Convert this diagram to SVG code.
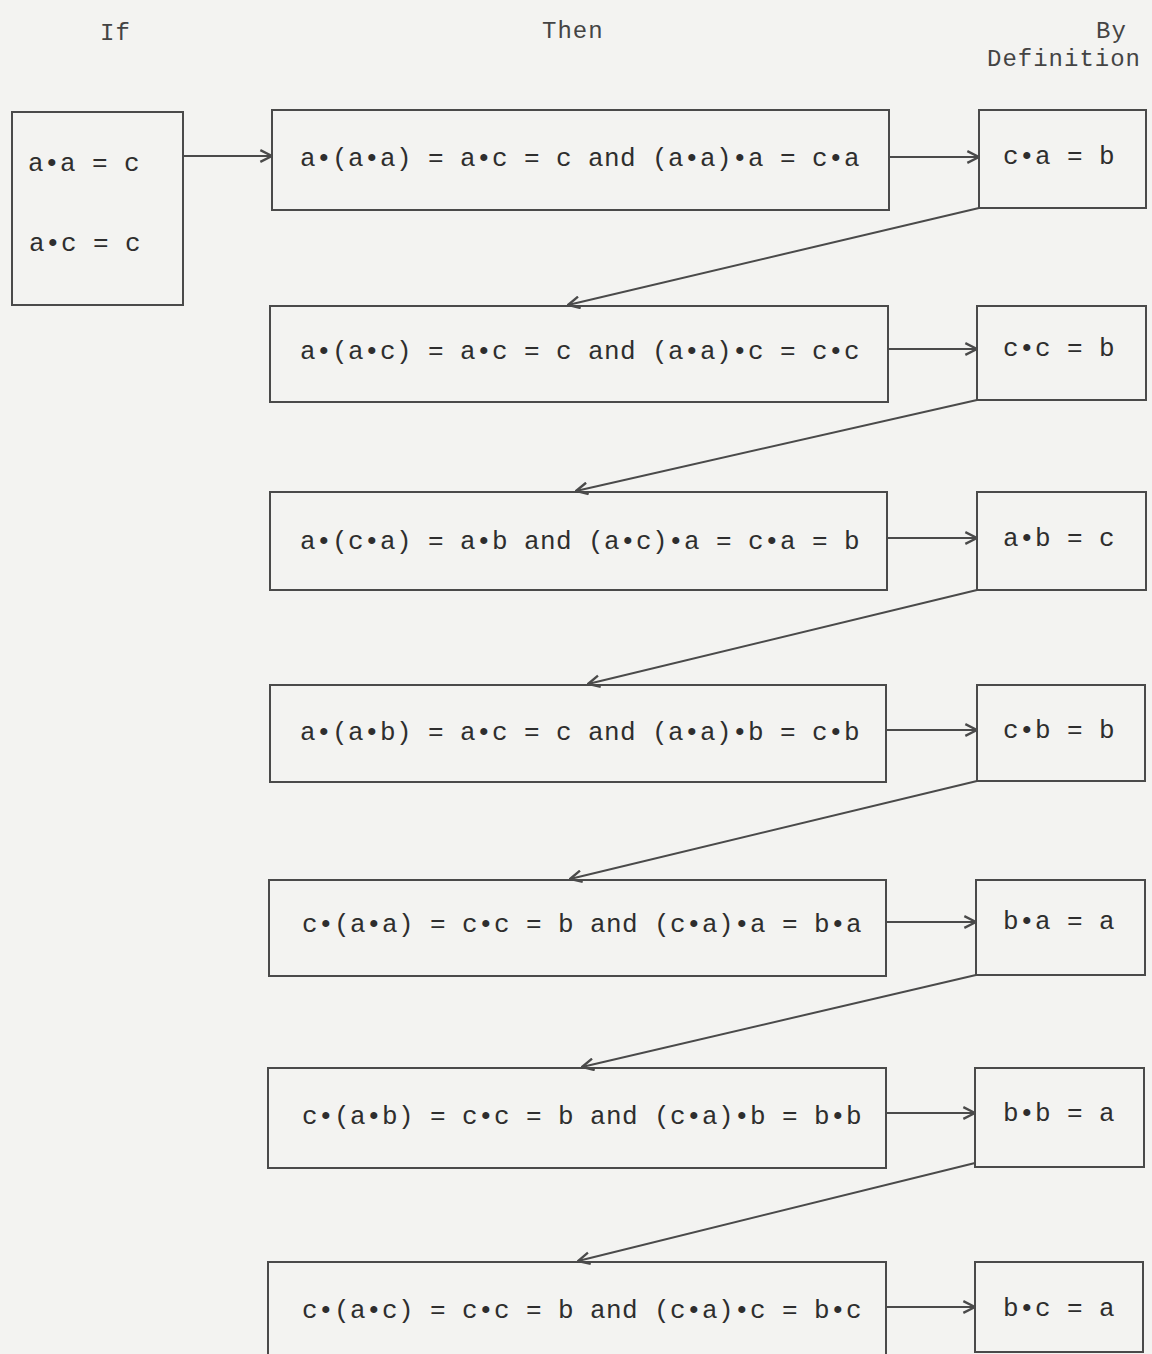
<svg xmlns="http://www.w3.org/2000/svg" width="1152" height="1354" viewBox="0 0 1152 1354">
<style>
.bg{fill:#f3f3f1}
.box{fill:none;stroke:#4a4a4a;stroke-width:2}
.t{font-family:"Liberation Mono","DejaVu Sans Mono",monospace;font-size:26px;letter-spacing:0.4px;fill:#2e2e2e}
.h{font-family:"Liberation Mono","DejaVu Sans Mono",monospace;font-size:24px;letter-spacing:1px;fill:#444}
.c{fill:none;stroke:#4a4a4a;stroke-width:2}
</style>
<defs>
<marker id="ah" viewBox="0 0 12 12" refX="11" refY="6" markerWidth="14" markerHeight="14" markerUnits="userSpaceOnUse" orient="auto">
<path d="M1,1 L11,6 L1,11" fill="none" stroke="#4a4a4a" stroke-width="2"/>
</marker>
</defs>
<rect class="bg" x="0" y="0" width="1152" height="1354"/>
<g id="headers">
<text class="h" x="100" y="40">If</text>
<text class="h" x="542" y="38">Then</text>
<text class="h" x="1096" y="38">By</text>
<text class="h" x="987" y="66">Definition</text>
</g>
<g id="if">
<rect class="box" x="12" y="112" width="171" height="193"/>
<text class="t" x="28" y="171">a•a = c</text>
<text class="t" x="29" y="251">a•c = c</text>
</g>
<g id="then1"><rect class="box" x="272" y="110" width="617" height="100"/><text class="t" x="300" y="166">a•(a•a) = a•c = c and (a•a)•a = c•a</text></g>
<g id="def1"><rect class="box" x="979" y="110" width="167" height="98"/><text class="t" x="1003" y="164">c•a = b</text></g>
<g id="then2"><rect class="box" x="270" y="306" width="618" height="96"/><text class="t" x="300" y="359">a•(a•c) = a•c = c and (a•a)•c = c•c</text></g>
<g id="def2"><rect class="box" x="977" y="306" width="169" height="94"/><text class="t" x="1003" y="356">c•c = b</text></g>
<g id="then3"><rect class="box" x="270" y="492" width="617" height="98"/><text class="t" x="300" y="549">a•(c•a) = a•b and (a•c)•a = c•a = b</text></g>
<g id="def3"><rect class="box" x="977" y="492" width="169" height="98"/><text class="t" x="1003" y="546">a•b = c</text></g>
<g id="then4"><rect class="box" x="270" y="685" width="616" height="97"/><text class="t" x="300" y="740">a•(a•b) = a•c = c and (a•a)•b = c•b</text></g>
<g id="def4"><rect class="box" x="977" y="685" width="168" height="96"/><text class="t" x="1003" y="738">c•b = b</text></g>
<g id="then5"><rect class="box" x="269" y="880" width="617" height="96"/><text class="t" x="302" y="932">c•(a•a) = c•c = b and (c•a)•a = b•a</text></g>
<g id="def5"><rect class="box" x="976" y="880" width="169" height="95"/><text class="t" x="1003" y="929">b•a = a</text></g>
<g id="then6"><rect class="box" x="268" y="1068" width="618" height="100"/><text class="t" x="302" y="1124">c•(a•b) = c•c = b and (c•a)•b = b•b</text></g>
<g id="def6"><rect class="box" x="975" y="1068" width="169" height="99"/><text class="t" x="1003" y="1121">b•b = a</text></g>
<g id="then7"><rect class="box" x="268" y="1262" width="618" height="100"/><text class="t" x="302" y="1318">c•(a•c) = c•c = b and (c•a)•c = b•c</text></g>
<g id="def7"><rect class="box" x="975" y="1262" width="168" height="90"/><text class="t" x="1003" y="1316">b•c = a</text></g>
<g id="connectors">
<line class="c" x1="183" y1="156" x2="272" y2="156" marker-end="url(#ah)"/>
<line class="c" x1="889" y1="157" x2="979" y2="157" marker-end="url(#ah)"/>
<line class="c" x1="888" y1="349" x2="977" y2="349" marker-end="url(#ah)"/>
<line class="c" x1="887" y1="538" x2="977" y2="538" marker-end="url(#ah)"/>
<line class="c" x1="886" y1="730" x2="977" y2="730" marker-end="url(#ah)"/>
<line class="c" x1="886" y1="922" x2="976" y2="922" marker-end="url(#ah)"/>
<line class="c" x1="886" y1="1113" x2="975" y2="1113" marker-end="url(#ah)"/>
<line class="c" x1="886" y1="1307" x2="975" y2="1307" marker-end="url(#ah)"/>
<line class="c" x1="979" y1="208" x2="568" y2="305" marker-end="url(#ah)"/>
<line class="c" x1="977" y1="400" x2="576" y2="491" marker-end="url(#ah)"/>
<line class="c" x1="977" y1="590" x2="588" y2="684" marker-end="url(#ah)"/>
<line class="c" x1="977" y1="781" x2="570" y2="879" marker-end="url(#ah)"/>
<line class="c" x1="976" y1="975" x2="582" y2="1067" marker-end="url(#ah)"/>
<line class="c" x1="975" y1="1163" x2="578" y2="1261" marker-end="url(#ah)"/>
</g>
</svg>
